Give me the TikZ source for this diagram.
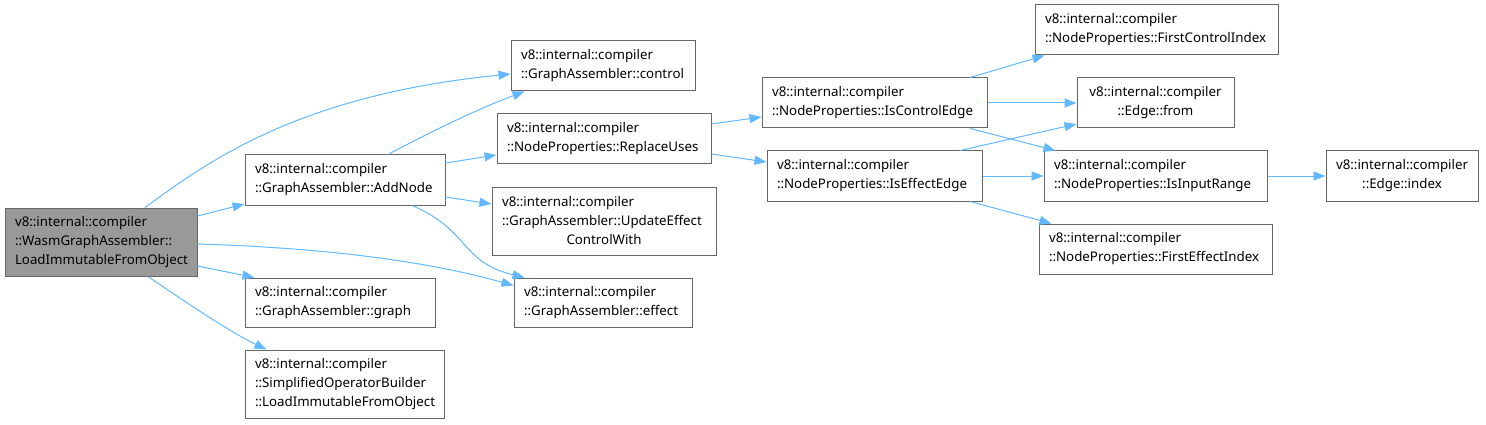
\documentclass[tikz,border=0pt]{standalone}
\usepackage{fontspec}
\setmainfont{Noto Sans}
\usetikzlibrary{arrows.meta}
\definecolor{edgec}{HTML}{63B8FF}
\definecolor{boxc}{HTML}{666666}
\definecolor{rootc}{HTML}{999999}
\tikzset{
  box/.style={draw=boxc, line width=1pt, fill=white, inner xsep=10pt, inner ysep=0pt, rectangle, font=\fontsize{13.3}{19}\selectfont},
  rootbox/.style={fill=rootc},
  edge/.style={draw=edgec, line width=1pt, -{Triangle[length=12pt,width=9pt]}}
}
\newcommand\bx[7]{%
  \pgfmathsetmacro\bxw{#4-#2}%
  \pgfmathsetmacro\bxh{#5-#3}%
  \pgfmathsetmacro\bxtw{#4-#2-20}%
  \pgfmathsetmacro\bxcx{(#2+#4)/2}%
  \pgfmathsetmacro\bxcy{(#3+#5)/2}%
  \node[box,#6,minimum width=\bxw pt,minimum height=\bxh pt,text width=\bxtw pt] (#1) at (\bxcx,\bxcy) {#7};}
\begin{document}
\begin{tikzpicture}[x=1pt,y=-1pt]
\useasboundingbox (0,0) rectangle (1486,425);
\bx{root}{5}{208}{197}{276}{rootbox,align=left}{v8::internal::compiler\\::WasmGraphAssembler::\\LoadImmutableFromObject}
\bx{addnode}{245}{155}{445}{205}{align=left}{v8::internal::compiler\\::GraphAssembler::AddNode}
\bx{graph}{245}{278}{435}{327}{align=left}{v8::internal::compiler\\::GraphAssembler::graph}
\bx{simp}{245}{350}{444}{418}{align=left}{v8::internal::compiler\\::SimplifiedOperatorBuilder\\::LoadImmutableFromObject}
\bx{control}{511}{41}{695}{91}{align=left}{v8::internal::compiler\\::GraphAssembler::control}
\bx{replace}{497}{114}{711}{164}{align=left}{v8::internal::compiler\\::NodeProperties::ReplaceUses}
\bx{update}{492}{187}{716}{255}{align=left}{v8::internal::compiler\\::GraphAssembler::UpdateEffect\\\makebox[\hsize][c]{ControlWith}}
\bx{effect}{514}{278}{692}{327}{align=left}{v8::internal::compiler\\::GraphAssembler::effect}
\bx{isctrl}{762}{78}{987}{128}{align=left}{v8::internal::compiler\\::NodeProperties::IsControlEdge}
\bx{iseff}{767}{151}{982}{201}{align=left}{v8::internal::compiler\\::NodeProperties::IsEffectEdge}
\bx{fci}{1035}{5}{1278}{55}{align=left}{v8::internal::compiler\\::NodeProperties::FirstControlIndex}
\bx{from}{1077}{78}{1234}{128}{align=center}{v8::internal::compiler\\::Edge::from}
\bx{isinput}{1044}{151}{1267}{201}{align=left}{v8::internal::compiler\\::NodeProperties::IsInputRange}
\bx{fei}{1039}{224}{1272}{274}{align=left}{v8::internal::compiler\\::NodeProperties::FirstEffectIndex}
\bx{index}{1326}{151}{1478}{201}{align=center}{v8::internal::compiler\\::Edge::index}

% edges
\draw[edge] ([xshift=44pt]root.north) .. controls (210,160) and (300,95) .. ([yshift=-8pt]control.west);
\draw[edge] ([yshift=26pt]root.east) -- ([yshift=-24pt]addnode.west);
\draw[edge] ([yshift=-2pt]root.east) .. controls (330,248) and (430,262) .. ([yshift=17pt]effect.west);
\draw[edge] ([yshift=-24pt]root.east) -- ([xshift=10pt]graph.north west);
\draw[edge] ([xshift=47pt]root.south) .. controls (190,305) and (230,332) .. ([xshift=22pt]simp.north west);
\draw[edge] ([xshift=43pt]addnode.north) .. controls (430,132) and (480,108) .. ([xshift=14pt]control.south west);
\draw[edge] ([yshift=17pt]addnode.east) -- ([yshift=-16pt]replace.west);
\draw[edge] ([yshift=-17pt]addnode.east) -- ([yshift=17pt]update.west);
\draw[edge] ([xshift=67pt]addnode.south) .. controls (470,230) and (460,262) .. ([xshift=11pt]effect.north west);
\draw[edge] ([yshift=15pt]replace.east) -- ([yshift=-14pt]isctrl.west);
\draw[edge] ([yshift=-15pt]replace.east) -- ([yshift=14pt]iseff.west);
\draw[edge] ([xshift=95.5pt]isctrl.north) -- ([xshift=10pt]fci.south west);
\draw[edge] (isctrl.east) -- (from.west);
\draw[edge] ([xshift=95.5pt]isctrl.south) -- ([xshift=12pt]isinput.north west);
\draw[edge] ([xshift=85.5pt]iseff.north) -- ([yshift=-21pt]from.west);
\draw[edge] (iseff.east) -- (isinput.west);
\draw[edge] ([xshift=95.5pt]iseff.south) -- ([xshift=13pt]fei.north west);
\draw[edge] (isinput.east) -- (index.west);
\end{tikzpicture}
\end{document}
